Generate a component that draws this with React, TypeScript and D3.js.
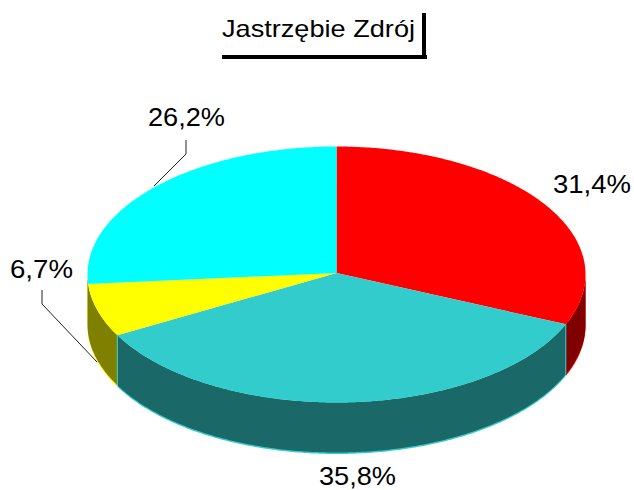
import React from "react";
import * as d3 from "d3";

const title = "Jastrzębie Zdrój";
const regions = ["A", "B", "C", "D"];
const shares = [31.4, 35.8, 6.7, 26.2];
const shareLabels = ["31,4%", "35,8%", "6,7%", "26,2%"];
const topColors = ["#ff0000", "#33cccc", "#ffff00", "#00ffff"];
const wallColors = ["#800000", "#1a6868", "#808000", "#008080"];

const labelPlacement = [
  { x: 553, y: 193, w: 78 },
  { x: 319, y: 485, w: 77 },
  { x: 10, y: 278, w: 63 },
  { x: 148, y: 126, w: 77 },
];
const leaders = [
  null,
  null,
  [[42, 290], [42, 304], [97, 362]],
  [[186, 140], [186, 154], [154, 186]],
];

const W = 634, H = 490;
const cx = 336.5, cy = 274.5, rx = 249, ry = 128, depth = 50;

const sx = d3.scaleLinear().domain([-1, 1]).range([cx - rx, cx + rx]);
const sy = d3.scaleLinear().domain([-1, 1]).range([cy - ry, cy + ry]);

const slices = d3.pie<number>().sort(null).value((d) => d).startAngle(0).endAngle(2 * Math.PI)(shares);

const rim = (a0: number, a1: number, dy = 0): [number, number][] => {
  const n = Math.max(2, Math.ceil(Math.abs(a1 - a0) / 0.01));
  return d3.range(n + 1).map((i) => {
    const a = a0 + ((a1 - a0) * i) / n;
    return [sx(Math.sin(a)), sy(-Math.cos(a)) + dy] as [number, number];
  });
};
const line = d3.line();
const apex: [number, number] = [sx(0), sy(0) - 1.5];
const HALF = Math.PI / 2;

export default function App() {
  const visible = slices
    .map((s, i) => ({ i, a0: Math.max(s.startAngle, HALF), a1: Math.min(s.endAngle, 3 * HALF) }))
    .filter((s) => s.a1 > s.a0);
  // A slice's wall runs on to the silhouette when the next slice would add only a sliver.
  const walls = visible.filter((s) => s.i !== 3).map((s) => (s.i === 2 ? { ...s, a1: 3 * HALF } : s));
  const seams = [slices[1].startAngle, slices[1].endAngle];

  return (
    <svg width={W} height={H} style={{ position: "absolute", left: 0, top: 0, background: "#fff" }}>
      <text x={222} y={37} fontFamily="Liberation Sans, Arial, sans-serif" fontSize={24} fill="#000" textLength={193} lengthAdjust="spacingAndGlyphs">
        {title}
      </text>
      <rect x={422} y={13} width={4} height={46} fill="#000" />
      <rect x={222} y={55} width={205} height={4} fill="#000" />

      {walls.map((s) => {
        const top = rim(s.a0, s.a1);
        const bottom = rim(s.a1, s.a0, depth);
        const fringe = rim(s.a1, s.a0, depth + 1.5);
        return (
          <g key={regions[s.i]}>
            <path d={line([...top, ...fringe])! + "Z"} fill={topColors[s.i]} />
            <path d={line([...top, ...bottom])! + "Z"} fill={wallColors[s.i]} />
          </g>
        );
      })}
      {seams.map((a) => (
        <path key={a} d={line([rim(a, a)[0], rim(a, a, depth)[0]])!} stroke={topColors[1]} strokeWidth={1} fill="none" />
      ))}

      {slices.map((s, i) => (
        <path key={regions[i]} d={line([apex, ...rim(s.startAngle, s.endAngle)])! + "Z"} fill={topColors[i]} />
      ))}

      {leaders.map((pts, i) =>
        pts ? <path key={regions[i]} d={line(pts as [number, number][])!} fill="none" stroke="#222" strokeWidth={1} /> : null
      )}
      {shareLabels.map((t, i) => (
        <text key={t} x={labelPlacement[i].x} y={labelPlacement[i].y} fontFamily="Liberation Sans, Arial, sans-serif" fontSize={25} fill="#000" textLength={labelPlacement[i].w} lengthAdjust="spacingAndGlyphs">
          {t}
        </text>
      ))}
    </svg>
  );
}
